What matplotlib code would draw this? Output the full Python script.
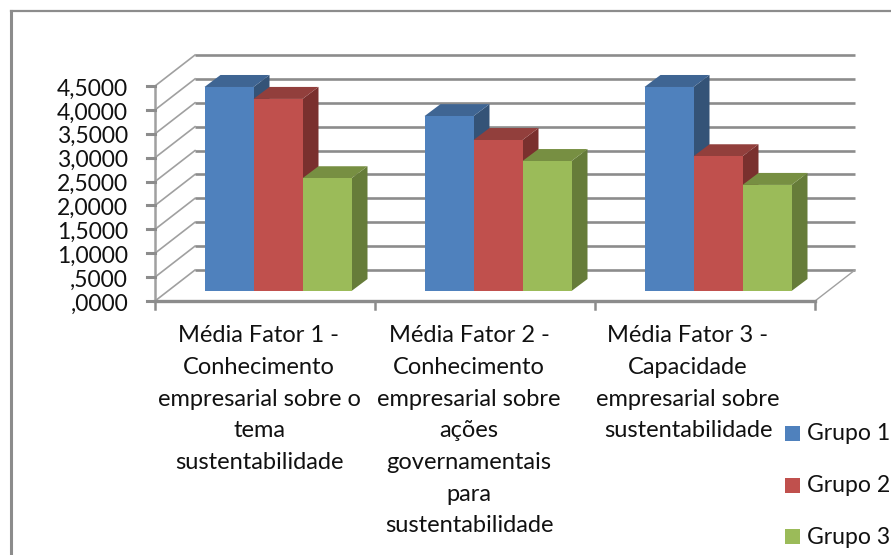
import matplotlib
matplotlib.use("Agg")
import matplotlib.pyplot as plt
from matplotlib.patches import Polygon, Rectangle
from matplotlib.lines import Line2D

categories = ["Média Fator 1 -\nConhecimento\nempresarial sobre o\ntema\nsustentabilidade",
              "Média Fator 2 -\nConhecimento\nempresarial sobre\nações\ngovernamentais\npara\nsustentabilidade",
              "Média Fator 3 -\nCapacidade\nempresarial sobre\nsustentabilidade"]
series_names = ["Grupo 1", "Grupo 2", "Grupo 3"]
grupo1 = [4.27, 3.66, 4.27]
grupo2 = [4.02, 3.16, 2.82]
grupo3 = [2.36, 2.72, 2.22]
yticks = [0, .5, 1, 1.5, 2, 2.5, 3, 3.5, 4, 4.5]
ylabels = [",0000", ",5000", "1,0000", "1,5000", "2,0000", "2,5000", "3,0000", "3,5000", "4,0000", "4,5000"]

front = ["#4F81BD", "#C0504D", "#9BBB59"]
top = ["#3F6593", "#923F3C", "#778F42"]
side = ["#345377", "#7A302E", "#667C39"]
GRID = "#8C8C8C"
FONT = "Lato"
W, H = 891, 555
fig = plt.figure(figsize=(W/100, H/100), dpi=100)
fig.patch.set_facecolor("white")
L, R, B, T = 155, 815, 301, 86
ax = fig.add_axes([L/W, 1-B/H, (R-L)/W, (B-T)/H])
ax.set_xlim(0, 3); ax.set_ylim(0, 4.5); ax.axis("off")
px = 3/(R-L); py = 4.5/(B-T)

# grid: left wall and back wall
DX, DY = 40*px, 31*py
for v in yticks:
    ax.plot([0, DX], [v, v+DY], color="#A0A0A0", lw=1.2, clip_on=False, zorder=1)
    ax.plot([DX, 3+DX], [v+DY, v+DY], color=GRID, lw=1.9, clip_on=False, zorder=1, solid_capstyle="butt")
ax.plot([3, 3+DX], [0, DY], color="#A0A0A0", lw=1.0, clip_on=False, zorder=1)
ax.plot([0, 3], [0, 0], color=GRID, lw=2.4, clip_on=False, zorder=1)
ax.plot([0, 0], [0, 4.5], color="#A0A0A0", lw=1.8, clip_on=False, zorder=1)
for v, s in zip(yticks, ylabels):
    ax.plot([-8*px, 0], [v, v], color=GRID, lw=2.2, clip_on=False, zorder=1)
    ax.text(-27*px, v-3*py, s, ha="right", va="center", fontsize=16.5, family=FONT, color="#111111")
for c in range(4):
    ax.plot([c, c], [0, -8*py], color=GRID, lw=1.8, clip_on=False, zorder=1)

# bars
bw = 49*px
ox, oy = 13*px, 10*py
ddx, ddy = 16*px, 12*py
for i in range(3):
    x0 = i + 0.5 + ox - 1.5*bw
    for s, vals in enumerate([grupo1, grupo2, grupo3]):
        x = x0 + s*bw; v = vals[i]
        z = 3 + s
        ax.add_patch(Polygon([(x+bw, oy), (x+bw+ddx, oy+ddy), (x+bw+ddx, oy+v+ddy), (x+bw, oy+v)],
                             fc=side[s], ec="none", zorder=z, clip_on=False))
        ax.add_patch(Polygon([(x, oy+v), (x+ddx, oy+v+ddy), (x+bw+ddx, oy+v+ddy), (x+bw, oy+v)],
                             fc=top[s], ec="none", zorder=z, clip_on=False))
        ax.bar(x, v, bw, bottom=oy, align="edge", color=front[s], zorder=z+0.1, clip_on=False)

# category labels
for x_px, lab in zip([259, 469, 688], categories):
    ax.text((x_px-L)*px, -24.5*py, lab, ha="center", va="top", fontsize=17, family=FONT,
            color="#111111", linespacing=1.625, clip_on=False)

# frame
fig.add_artist(Line2D([11/W, 11/W], [0, 1-11/H], color="#8C8C8C", lw=2.2))
fig.add_artist(Line2D([11/W, 1], [1-11/H, 1-11/H], color="#8C8C8C", lw=1.6))

# legend
for n, (name, yp) in enumerate(zip(series_names, [434, 486, 537])):
    fig.add_artist(Rectangle((785/W, 1-(yp+7)/H), 15/W, 15/H, transform=fig.transFigure, fc=front[n], ec="none"))
    fig.text(807/W, 1-yp/H, name, ha="left", va="center", fontsize=16.6, family=FONT, color="#111111")

fig.savefig("out.png", dpi=100)
